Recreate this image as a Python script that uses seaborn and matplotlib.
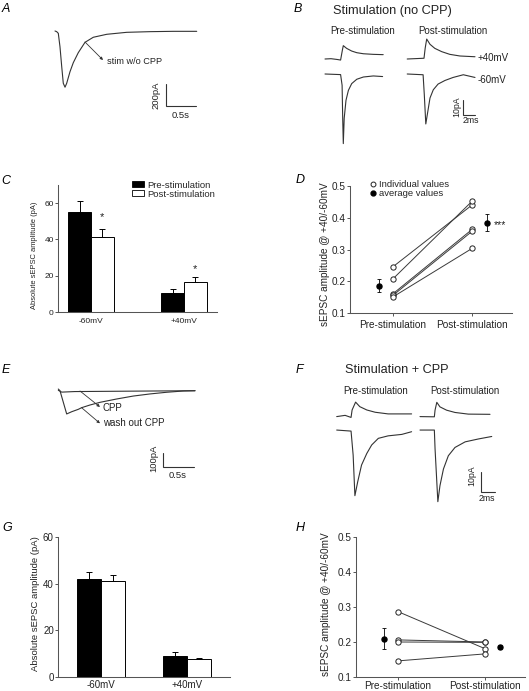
import numpy as np
import pandas as pd
import matplotlib
matplotlib.use("Agg")
import matplotlib.pyplot as plt
from matplotlib.lines import Line2D
from matplotlib.patches import Patch
import seaborn as sns

# =======================
# data
# =======================
# A - sEPSC after stimulation without CPP (s, pA)
a_t = [0, 0.028, 0.055, 0.083, 0.112, 0.138, 0.167, 0.195, 0.25, 0.305, 0.388,
       0.5, 0.638, 0.862, 1.195, 1.583, 1.972, 2.362]
a_i = [0, -6, -21, -143, -324, -475, -511, -475, -370, -288, -197,
       -103, -57, -30, -12, -6, -3, -3]

# B - stimulation (no CPP), example traces (ms, pA)
b_pre40_t = [0, 1.0, 2.0, 2.6, 2.9, 3.05, 3.6, 4.45, 5.3, 6.4, 8.05, 9.7]
b_pre40_i = [0, 0.2, -0.3, -0.7, 6, 8.9, 7.1, 5.3, 4.2, 3.5, 3.1, 2.9]
b_pre60_t = [0, 2.6, 2.85, 2.95, 3.05, 3.2, 3.5, 3.9, 4.45, 5.3, 6.4, 8.05, 9.6]
b_pre60_i = [0, -0.4, -7.5, -29.5, -46.4, -29.5, -17.5, -10.9, -6.4, -3.5, -2, -1.3, -1.7]
b_post40_t = [0, 2.8, 3.0, 3.25, 3.8, 4.6, 5.75, 7.1, 8.8, 11.3]
b_post40_i = [0, 0.5, 7.3, 13.3, 9.8, 7.1, 4.9, 3.1, 2, 1.5]
b_post60_t = [0, 2.65, 2.85, 3.1, 3.35, 3.8, 4.35, 5.15, 6.3, 7.65, 9.35, 11.3]
b_post60_i = [0, -0.5, -13.8, -33.3, -27.1, -16, -10.5, -6.7, -4.3, -2.3, -0.5, -2.3]

# C - absolute sEPSC amplitude (pA), no CPP
holding = ["-60mV", "+40mV"]
phases = ["Pre-stimulation", "Post-stimulation"]
c_pre = [55.2, 10.3]
c_post = [41.3, 16.3]
c_pre_err = [5.9, 2.2]
c_post_err = [4.5, 2.8]

# D - +40/-60 ratio, no CPP
d_pre = [0.246, 0.208, 0.161, 0.156, 0.151]
d_post = [0.441, 0.453, 0.364, 0.358, 0.304]
d_avg = [0.186, 0.385]
d_sem = [0.020, 0.028]

# E - CPP and wash out (s, pA)
e_cpp_t = [0.005, 0.06, 0.27, 1.21, 2.21]
e_cpp_i = [5, -8, -4, -1, 2]
e_wash_t = [0.005, 0.032, 0.14, 0.221, 0.327, 0.382, 0.516, 0.677, 0.947,
            1.215, 1.484, 1.753, 2.021, 2.21]
e_wash_i = [14, 2, -164, -148, -131, -119, -100, -81, -57, -36, -21, -9, 0, 2]

# F - stimulation + CPP, example traces (ms, pA)
f_pre40_t = [0, 1.2, 2.05, 2.2, 2.7, 3.3, 4.3, 5.5, 7.35, 10.7]
f_pre40_i = [0, 0.6, -0.4, 3.2, 7, 4.8, 3.2, 2.1, 1.3, 1.3]
f_pre60_t = [0, 2.05, 2.35, 2.6, 3.0, 3.55, 4.3, 5.0, 5.95, 7.35, 9.3, 10.7]
f_pre60_i = [0, -0.5, -12.1, -31.7, -25, -16.9, -11.3, -7.2, -4, -2.8, -2.1, -0.8]
f_post40_t = [0, 2.05, 2.15, 2.4, 2.85, 3.8, 5.0, 6.9, 10.0]
f_post40_i = [0, -0.1, 3.1, 6.9, 4.7, 3.1, 2, 1.2, 1.1]
f_post60_t = [0, 2.05, 2.15, 2.55, 2.85, 3.35, 4.05, 5.0, 6.45, 8.35, 10.25]
f_post60_i = [0, 0, -9, -34.6, -26.9, -18.8, -12.4, -8.4, -5.7, -4.3, -3.1]

# G - absolute sEPSC amplitude (pA), with CPP
g_pre = [42.1, 8.9]
g_post = [41.1, 7.7]
g_pre_err = [3.0, 1.7]
g_post_err = [2.7, 0.3]

# H - +40/-60 ratio, with CPP
h_pre = [0.287, 0.206, 0.200, 0.146]
h_post = [0.181, 0.200, 0.199, 0.166]
h_avg = [0.209, 0.186]
h_sem = [0.030, 0.005]

# =======================
# figure set-up
# =======================
sns.set_style("ticks")
plt.rcParams["font.family"] = ["Liberation Sans", "DejaVu Sans"]
plt.rcParams["axes.linewidth"] = 0.75

W, H = 529, 691
fig = plt.figure(figsize=(W / 100, H / 100), dpi=100)
TXT = "#222222"
TRACE = "#333333"
SPINE = "#555555"


def box(l, t, r, b):
    return [l / W, 1 - b / H, (r - l) / W, (b - t) / H]


def ftext(x, y, s, **kw):
    kw.setdefault("ha", "center")
    kw.setdefault("va", "center")
    kw.setdefault("color", TXT)
    fig.text(x / W, 1 - y / H, s, **kw)


def trace_axes(l, t, r, b, ox, oy, sx, sy):
    ax = fig.add_axes(box(l, t, r, b))
    ax.set_xlim((l - ox) / sx, (r - ox) / sx)
    ax.set_ylim((oy - b) / sy, (oy - t) / sy)
    ax.axis("off")
    return ax


def trace(ax, t, i, dt=0, di=0):
    sns.lineplot(x=np.asarray(t) + dt, y=np.asarray(i) + di, sort=False,
                 estimator=None, color=TRACE, lw=0.8, ax=ax)


def scalebar(ax, x, y_top, y_bot, x_end):
    ax.plot([x, x, x_end], [y_top, y_bot, y_bot], color=TRACE, lw=0.8,
            solid_joinstyle="miter")


def style_axes(ax, ticksize):
    sns.despine(ax=ax)
    for sp in ("left", "bottom"):
        ax.spines[sp].set_color(SPINE)
        ax.spines[sp].set_linewidth(0.75)
    ax.tick_params(labelsize=ticksize, colors=SPINE, labelcolor=TXT,
                   length=2, width=0.7, pad=1)
    ax.set_xlabel("")
    ax.set_ylabel("")


def bar_panel(ax, pre, post, pre_err, post_err, width):
    df = pd.DataFrame({
        "holding": holding * 2,
        "phase": [phases[0]] * len(pre) + [phases[1]] * len(post),
        "amp": pre + post,
    })
    sns.barplot(data=df, x="holding", y="amp", hue="phase", order=holding,
                hue_order=phases, palette=["black", "white"], saturation=1,
                edgecolor="black", linewidth=0.7, width=width,
                errorbar=None, legend=False, ax=ax)
    for cont, err in zip(ax.containers, [pre_err, post_err]):
        xs = [b.get_x() + b.get_width() / 2 for b in cont]
        ys = [b.get_height() for b in cont]
        ax.errorbar(xs, ys, yerr=[np.zeros(len(err)), err], fmt="none",
                    ecolor="black", elinewidth=0.7, capsize=2, capthick=0.7)
    return ax


def ratio_panel(ax, pre, post, avg, sem, avg_x):
    n = len(pre)
    df = pd.DataFrame({"cell": list(range(n)) * 2,
                       "x": [1] * n + [2] * n,
                       "ratio": pre + post})
    sns.lineplot(data=df, x="x", y="ratio", units="cell", estimator=None,
                 color="#3a3a3a", lw=0.7, marker="o", markersize=3.8,
                 markerfacecolor="white", markeredgecolor="#222222",
                 markeredgewidth=0.7, legend=False, ax=ax)
    ax.errorbar(avg_x, avg, yerr=sem, fmt="o", color="black", ms=3.6,
                elinewidth=0.6, capsize=1.5, capthick=0.6)
    ax.set_ylim(0.1, 0.5)
    ax.set_yticks([0.1, 0.2, 0.3, 0.4, 0.5], ["0.1", "0.2", "0.3", "0.4", "0.5"])
    ax.set_xticks([1, 2], phases)


# panel letters
for letter, (x, y) in {"A": (6, 9), "B": (298, 9.5), "C": (5.5, 180.5),
                       "D": (300, 180), "E": (6, 370), "F": (299, 370),
                       "G": (7, 528), "H": (300, 528)}.items():
    ftext(x, y, letter, fontsize=9, style="italic", color="black")

# =======================
# A
# =======================
ax_a = trace_axes(40, 20, 215, 125, ox=55, oy=31, sx=60, sy=0.11)
trace(ax_a, a_t, a_i)
ax_a.annotate("", xy=(0.8, -264), xytext=(0.5, -100),
              arrowprops=dict(arrowstyle="-|>", lw=0.6, color=TRACE,
                              mutation_scale=4, shrinkA=0, shrinkB=0))
ax_a.text(0.862, -273, "stim w/o CPP", fontsize=6.6, ha="left", va="center", color=TXT)
scalebar(ax_a, 1.85, -485, -682, 2.35)
ax_a.text(1.69, -583, "200pA", rotation=90, fontsize=6.8, ha="center", va="center", color=TXT)
ax_a.text(2.1, -766, "0.5s", fontsize=6.8, ha="center", va="center", color=TXT)

# =======================
# B
# =======================
ftext(392, 11, "Stimulation (no CPP)", fontsize=9.2)
ftext(362.5, 31, "Pre-stimulation", fontsize=7)
ftext(452.7, 31, "Post-stimulation", fontsize=7)
ax_b = trace_axes(318, 36, 520, 150, ox=325, oy=59, sx=6, sy=1.5)
trace(ax_b, b_pre40_t, b_pre40_i)
trace(ax_b, b_pre60_t, b_pre60_i, di=-10)
trace(ax_b, b_post40_t, b_post40_i, dt=13.7)
trace(ax_b, b_post60_t, b_post60_i, dt=13.7, di=-10)
ax_b.text(25.5, 0.7, "+40mV", fontsize=7, ha="left", va="center", color=TXT)
ax_b.text(25.5, -14, "-60mV", fontsize=7, ha="left", va="center", color=TXT)
scalebar(ax_b, 23, -27.3, -37.3, 25)
ax_b.text(22.0, -32, "10pA", rotation=90, fontsize=6.3, ha="center", va="center", color=TXT)
ax_b.text(24.3, -41.3, "2ms", fontsize=6.3, ha="center", va="center", color=TXT)

# =======================
# C
# =======================
ax_c = fig.add_axes(box(58, 185, 217, 312))
bar_panel(ax_c, c_pre, c_post, c_pre_err, c_post_err, width=0.49)
ax_c.set_xlim(-0.355, 1.355)
ax_c.set_ylim(0, 70)
ax_c.set_yticks([0, 20, 40, 60])
style_axes(ax_c, 6)
ax_c.tick_params(axis="x", length=0, pad=4)
for x, y in [(0.1225, 52.5), (1.1225, 23.4)]:
    ax_c.text(x, y, "*", fontsize=8, ha="center", va="center", color=TXT)
ax_c.legend(handles=[Patch(fc="black", ec="black", lw=0.6),
                     Patch(fc="white", ec="black", lw=0.6)],
            labels=phases, loc="upper left", bbox_to_anchor=(0.465, 1.035),
            frameon=False, fontsize=6.8, handlelength=1.3, handleheight=0.6,
            handletextpad=0.3, labelspacing=0.0, borderpad=0, borderaxespad=0)
ftext(34, 255, "Absolute sEPSC amplitude (pA)", rotation=90, fontsize=5.4)

# =======================
# D
# =======================
ax_d = fig.add_axes(box(350, 186, 512, 313))
ratio_panel(ax_d, d_pre, d_post, d_avg, d_sem, avg_x=[0.82, 2.19])
ax_d.set_xlim(0.456, 2.5)
style_axes(ax_d, 7.2)
ax_d.tick_params(axis="x", pad=3)
ax_d.text(2.27, 0.377, "***", fontsize=7.5, ha="left", va="center", color=TXT)
ax_d.legend(handles=[Line2D([], [], ls="none", marker="o", ms=3.5, mfc="white", mec="#222222", mew=0.7),
                     Line2D([], [], ls="none", marker="o", ms=3.5, mfc="black", mec="black")],
            labels=["Individual values", "average values"], loc="upper left",
            bbox_to_anchor=(0.124, 1.045), frameon=False, fontsize=6.8,
            handlelength=0.6, handletextpad=0.3, labelspacing=0.0,
            borderpad=0, borderaxespad=0)
ftext(325, 254, "sEPSC amplitude @ +40/-60mV", rotation=90, fontsize=7.2)

# =======================
# E
# =======================
ax_e = trace_axes(40, 375, 215, 490, ox=58, oy=391, sx=62, sy=0.14)
trace(ax_e, e_wash_t, e_wash_i)
trace(ax_e, e_cpp_t, e_cpp_i)
for start, end in [((0.355, 0), (0.677, -114)), ((0.38, -119), (0.677, -231))]:
    ax_e.annotate("", xy=end, xytext=start,
                  arrowprops=dict(arrowstyle="-|>", lw=0.6, color=TRACE,
                                  mutation_scale=4, shrinkA=0, shrinkB=0))
ax_e.text(0.71, -119, "CPP", fontsize=7, ha="left", va="center", color=TXT)
ax_e.text(0.726, -229, "wash out CPP", fontsize=7, ha="left", va="center", color=TXT)
scalebar(ax_e, 1.69, -443, -543, 2.19)
ax_e.text(1.548, -479, "100pA", rotation=90, fontsize=6.8, ha="center", va="center", color=TXT)
ax_e.text(1.935, -604, "0.5s", fontsize=6.8, ha="center", va="center", color=TXT)

# =======================
# F
# =======================
ftext(396.5, 370, "Stimulation + CPP", fontsize=9.2)
ftext(375.5, 390.5, "Pre-stimulation", fontsize=7)
ftext(464.5, 390.5, "Post-stimulation", fontsize=7)
ax_f = trace_axes(330, 398, 512, 506, ox=336.7, oy=416.6, sx=7, sy=2.07)
trace(ax_f, f_pre40_t, f_pre40_i)
trace(ax_f, f_pre60_t, f_pre60_i, di=-6.5)
trace(ax_f, f_post40_t, f_post40_i, dt=11.9)
trace(ax_f, f_post60_t, f_post60_i, dt=11.9, di=-6.5)
scalebar(ax_f, 20.6, -26.6, -36.6, 22.6)
ax_f.text(19.3, -28.7, "10pA", rotation=90, fontsize=6.3, ha="center", va="center", color=TXT)
ax_f.text(21.5, -39.8, "2ms", fontsize=6.3, ha="center", va="center", color=TXT)

# =======================
# G
# =======================
ax_g = fig.add_axes(box(58, 537, 230, 677))
bar_panel(ax_g, g_pre, g_post, g_pre_err, g_post_err, width=0.55)
ax_g.set_xlim(-0.5, 1.5)
ax_g.set_ylim(0, 60)
ax_g.set_yticks([0, 20, 40, 60])
style_axes(ax_g, 7)
ax_g.tick_params(axis="x", length=0, pad=2.5)
ftext(35.5, 604, "Absolute sEPSC amplitude (pA)", rotation=90, fontsize=6.8)

# =======================
# H
# =======================
ax_h = fig.add_axes(box(356, 537, 525, 677))
ratio_panel(ax_h, h_pre, h_post, h_avg, h_sem, avg_x=[0.84, 2.17])
ax_h.set_xlim(0.52, 2.46)
style_axes(ax_h, 7.2)
ax_h.tick_params(axis="x", pad=1)
ftext(326, 604, "sEPSC amplitude @ +40/-60mV", rotation=90, fontsize=7.2)

fig.savefig("out.png", dpi=100)
